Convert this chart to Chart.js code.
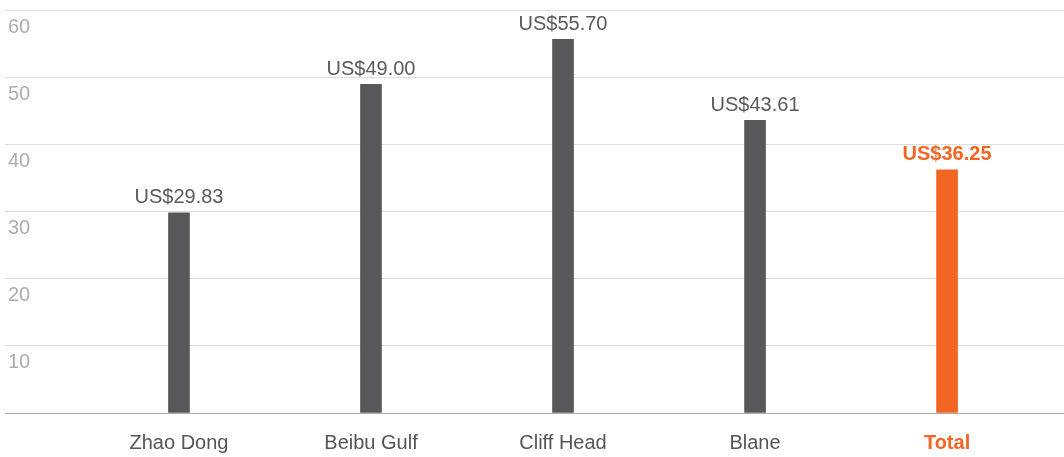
<!DOCTYPE html>
<html>
<head>
<meta charset="utf-8">
<script src="https://cdn.jsdelivr.net/npm/chart.js@4/dist/chart.umd.min.js"></script>
<style>
  html, body { margin: 0; padding: 0; background: #fff; }
  #wrap { width: 1064px; height: 457px; position: relative; }
</style>
</head>
<body>
<div id="wrap"><canvas id="c"></canvas></div>
<script>
const categories = ["Zhao Dong", "Beibu Gulf", "Cliff Head", "Blane", "Total"];
const values = [29.83, 49.00, 55.70, 43.61, 36.25];
const valueLabels = ["US$29.83", "US$49.00", "US$55.70", "US$43.61", "US$36.25"];
const yTicks = [10, 20, 30, 40, 50, 60];

const GRAY = "#58585a";
const ORANGE = "#f26522";
const FONT = "'Liberation Sans', Arial, Helvetica, sans-serif";
const isTotal = i => categories[i] === "Total";
const tickIsTotal = ctx => !!(ctx && ctx.tick && isTotal(ctx.tick.value));

const valueLabelPlugin = {
  id: "valueLabels",
  afterDatasetsDraw(chart) {
    const ctx = chart.ctx;
    const meta = chart.getDatasetMeta(0);
    ctx.save();
    ctx.textAlign = "center";
    ctx.textBaseline = "bottom";
    meta.data.forEach((bar, i) => {
      ctx.font = (isTotal(i) ? "bold " : "") + "20px " + FONT;
      ctx.fillStyle = isTotal(i) ? ORANGE : "#5a5a5a";
      ctx.fillText(valueLabels[i], bar.x, bar.y - 5);
    });
    ctx.restore();
  }
};

new Chart(document.getElementById("c"), {
  type: "bar",
  data: {
    datasets: [{
      data: values.map((v, i) => ({ x: i, y: v })),
      backgroundColor: values.map((v, i) => isTotal(i) ? ORANGE : GRAY),
      barThickness: 21,
      borderWidth: 0
    }]
  },
  options: {
    responsive: true,
    maintainAspectRatio: false,
    animation: false,
    layout: { padding: { left: 5, right: 0, top: 10.5, bottom: 0 } },
    plugins: { legend: { display: false }, tooltip: { enabled: false } },
    scales: {
      x: {
        type: "linear",
        offset: false,
        min: -0.906,
        max: 4.609,
        grid: { display: false, drawTicks: false },
        border: { display: true, color: "#a8a8a8", width: 1 },
        afterBuildTicks: (scale) => { scale.ticks = categories.map((c, i) => ({ value: i })); },
        afterFit: (scale) => { scale.height = 44; scale.paddingLeft = 0; scale.paddingRight = 0; },
        ticks: {
          padding: 18,
          autoSkip: false,
          maxRotation: 0,
          callback: (v) => categories[v] ?? "",
          color: (ctx) => tickIsTotal(ctx) ? ORANGE : "#555555",
          font: (ctx) => ({ family: FONT, size: 20, weight: tickIsTotal(ctx) ? "bold" : "normal" })
        }
      },
      y: {
        min: 0,
        max: 60,
        afterBuildTicks: (scale) => { scale.ticks = [0].concat(yTicks).map(v => ({ value: v })); },
        afterFit: (scale) => { scale.width = 0; scale.paddingTop = 0; scale.paddingBottom = 0; },
        grid: { color: "#dddddd", lineWidth: 1, drawTicks: false },
        border: { display: false },
        ticks: {
          mirror: true,
          padding: 3,
          labelOffset: 17,
          color: "#adadad",
          font: { family: FONT, size: 20, weight: "normal" },
          callback: (v) => yTicks.includes(v) ? String(v) : ""
        }
      }
    }
  },
  plugins: [valueLabelPlugin]
});
</script>
</body>
</html>
